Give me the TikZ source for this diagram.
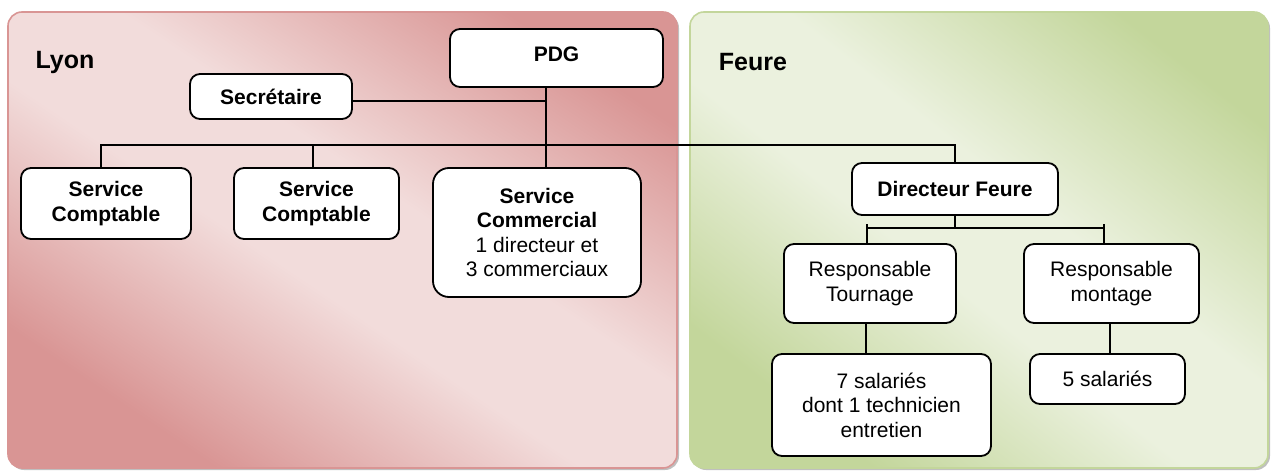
\documentclass[tikz,border=0pt]{standalone}
\usepackage{fontspec}
\setmainfont{Liberation Sans}
\usetikzlibrary{positioning}
\definecolor{lyondark}{HTML}{D99594}
\definecolor{lyonlight}{HTML}{F2DCDB}
\definecolor{feuredark}{HTML}{C3D69B}
\definecolor{feurelight}{HTML}{EBF1DE}
\pgfdeclareverticalshading{lyonfond}{100bp}{color(0bp)=(lyondark); color(26bp)=(lyondark);
  color(45bp)=(lyonlight); color(56bp)=(lyonlight); color(76bp)=(lyondark); color(100bp)=(lyondark)}
\pgfdeclareverticalshading{feurefond}{100bp}{color(0bp)=(feuredark); color(26bp)=(feuredark);
  color(45bp)=(feurelight); color(56bp)=(feurelight); color(76bp)=(feuredark); color(100bp)=(feuredark)}
\begin{document}
\begin{tikzpicture}[x=0.5pt,y=-0.5pt,
  site/.style={rounded corners=7pt, line width=0.8pt},
  ombre/.style={fill=black!25, rounded corners=7pt},
  poste/.style={draw, rounded corners=5pt, fill=white, line width=0.9pt, align=center,
    inner sep=0pt, font=\fontsize{10.5}{12.2}\selectfont},
  chef/.style={poste, font=\bfseries\fontsize{10.5}{12.2}\selectfont},
  titre/.style={font=\bfseries\fontsize{12.5}{14}\selectfont},
  lien/.style={draw, line width=0.9pt}]
\useasboundingbox (0,0) rectangle (1271,471);
% sites
\path[ombre] (10,14) rectangle (679,470);
\shade[site, shading=lyonfond, shading angle=-34] (8,12) rectangle (677,468);
\path[site, draw=lyondark] (8,12) rectangle (677,468);
\path[ombre] (692,14) rectangle (1270,470);
\shade[site, shading=feurefond, shading angle=-38] (690,12) rectangle (1268,468);
\path[site, draw=feuredark] (690,12) rectangle (1268,468);
\node[titre] (lyon) at (65,62) {Lyon};
\node[titre] (feure) at (753,62) {Feure};
% Lyon
\node[chef, minimum width=106.5pt, minimum height=29pt, text depth=4pt] (pdg) at (556.5,58) {PDG};
\node[chef, minimum width=81pt, minimum height=22.5pt] (secr) at (271,96.5) {Secrétaire};
\node[chef, minimum width=85pt, minimum height=35.5pt] (sc1) at (106,203.5) {Service\\Comptable};
\node[chef, minimum width=82.5pt, minimum height=35.5pt] (sc2) at (316.5,203.5) {Service\\Comptable};
\node[poste, rounded corners=8pt, minimum width=104pt, minimum height=64.5pt] (scom) at (537,232.5)
  {\textbf{Service}\\\textbf{Commercial}\\1 directeur et\\3 commerciaux};
% Feure
\node[chef, minimum width=103pt, minimum height=26pt] (dir) at (955,189) {Directeur Feure};
\node[poste, minimum width=86pt, minimum height=39.5pt] (tour) at (870,283.5) {Responsable\\Tournage};
\node[poste, minimum width=87.5pt, minimum height=39.5pt] (mont) at (1111.5,283.5) {Responsable\\montage};
\node[poste, minimum width=109.5pt, minimum height=51pt] (sal7) at (881.5,405) {7 salariés\\dont 1 technicien\\entretien};
\node[poste, minimum width=77.5pt, minimum height=25pt] (sal5) at (1107.5,379) {5 salariés};
% liens
\coordinate (bus) at (0,145);
\coordinate (busf) at (0,228);
\coordinate (tronc) at ([xshift=-5.25pt]pdg.south);
\coordinate (sc1h) at ([xshift=-2.5pt]sc1.north);
\coordinate (sc2h) at ([xshift=-1.75pt]sc2.north);
\coordinate (tourh) at ([xshift=-1.5pt]tour.north);
\coordinate (tourb) at ([xshift=-2pt]tour.south);
\coordinate (month) at ([xshift=-3.75pt]mont.north);
\coordinate (montb) at ([xshift=-0.75pt]mont.south);
\path[lien] (tronc) -- (tronc |- scom.north);
\path[lien] ([yshift=-2.25pt]secr.east) -- ([yshift=-2.25pt]secr.east -| tronc);
\path[lien] (sc1h) -- (sc1h |- bus) -| (dir.north);
\path[lien] (sc2h) -- (sc2h |- bus);
\path[lien] (dir.south) -- (dir.south |- busf);
\path[lien] (tourh |- busf) -- (month |- busf);
\path[lien] (tourh |- busf) ++(0,-4) -- (tourh);
\path[lien] (month |- busf) ++(0,-4) -- (month);
\path[lien] (tourb) -- (tourb |- sal7.north);
\path[lien] (montb) -- (montb |- sal5.north);
\end{tikzpicture}
\end{document}
